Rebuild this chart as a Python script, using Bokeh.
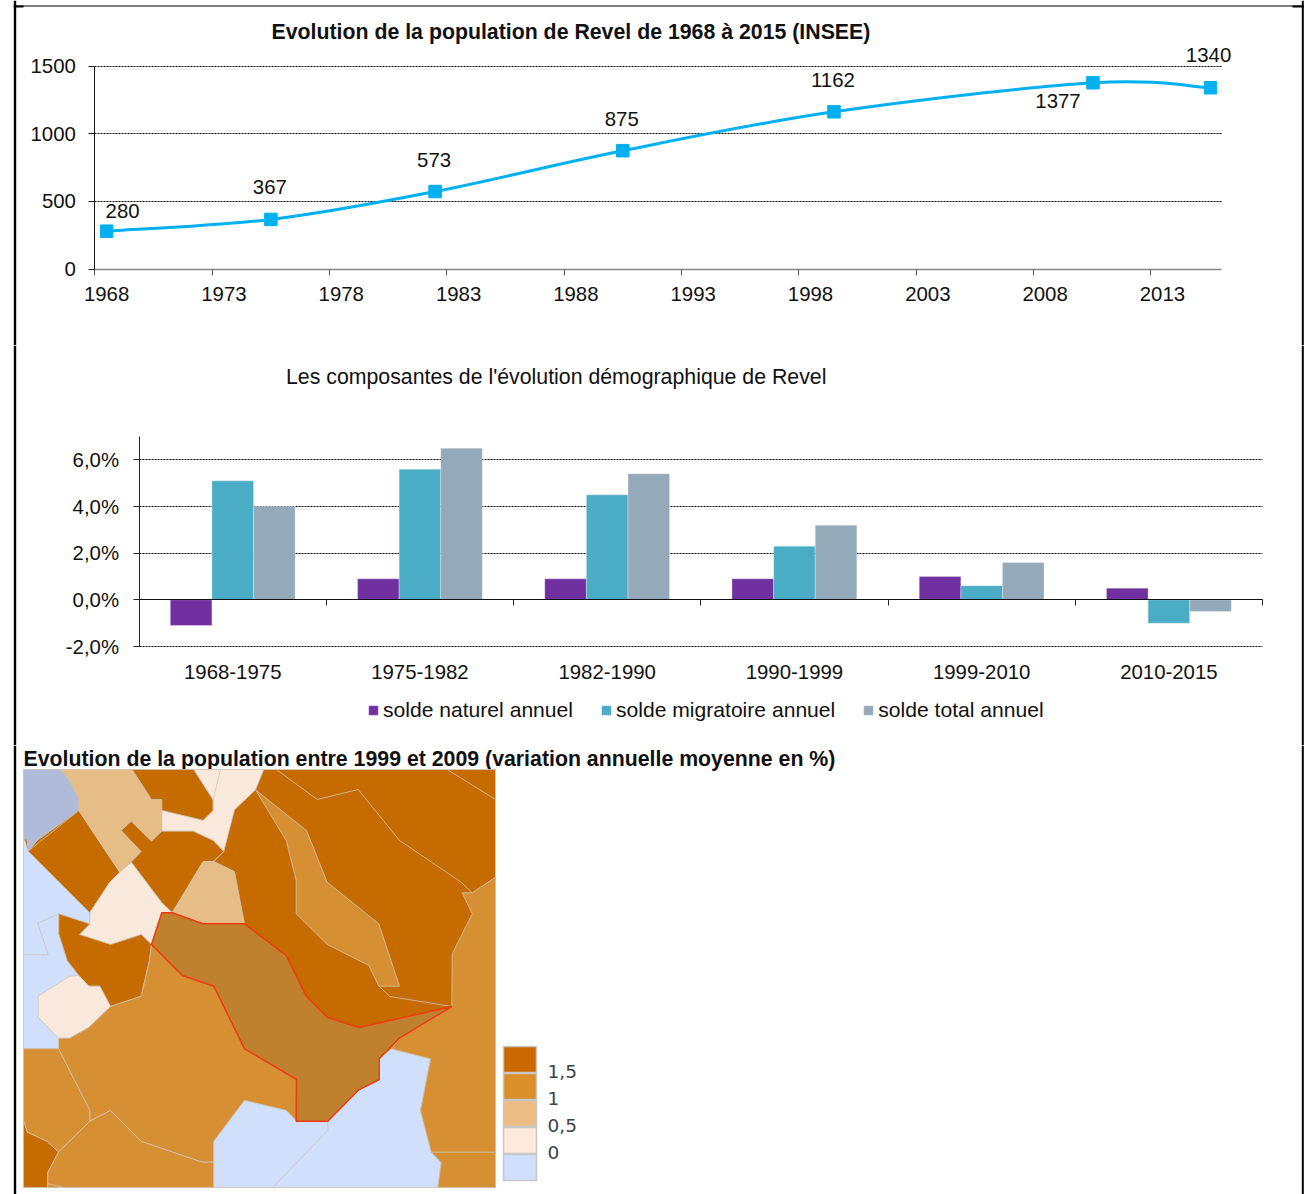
from bokeh.core.properties import value
from bokeh.embed import file_html
from bokeh.layouts import column
from bokeh.models import (ColumnDataSource, FixedTicker, Grid, LabelSet,
                          Legend, LegendItem, LinearAxis, Range1d)
from bokeh.plotting import figure
from bokeh.resources import INLINE

SANS = "Liberation Sans"
INK = "#111111"

# Population of Revel at each census
census_years = [1968.5, 1975.5, 1982.5, 1990.5, 1999.5, 2010.54, 2015.55]
population = [280, 367, 573, 875, 1162, 1377, 1340]
label_dx = [16, -1, -1, -1, -1, -35, -2]
label_dy = [20, 32, 32, 32, 32, -18, 33]
year_labels = ["1968", "1973", "1978", "1983", "1988", "1993", "1998", "2003", "2008", "2013"]
pop_ticks = [0, 500, 1000, 1500]

# Demographic components per inter-census period, percent per year
periods = ["1968-1975", "1975-1982", "1982-1990", "1990-1999", "1999-2010", "2010-2015"]
natural = [-1.1, 0.9, 0.9, 0.9, 1.0, 0.5]
migration = [5.1, 5.6, 4.5, 2.3, 0.6, -1.0]
total = [4.0, 6.5, 5.4, 3.2, 1.6, -0.5]
rate_ticks = [-2, 0, 2, 4, 6]
rate_labels = {-2: "-2,0%", 0: "0,0%", 2: "2,0%", 4: "4,0%", 6: "6,0%"}

# Map classes
DARK, MID, LIGHT, PALE, BLUE = "#C56B00", "#D68F33", "#E7BD87", "#F9E8DC", "#CFDFFC"
STEEL, REVEL = "#B0BBDA", "#BF812D"
key_labels = ["1,5", "1", "0,5", "0"]
key_colors = ["#CB6A00", "#DB8F29", "#ECBD85", "#FEE9DC", "#CFDFFC"]

# Commune outlines, in map units
steel_nw = [(23, 769), (60, 769), (68.3, 778.3), (78.3, 798.3), (78.3, 810), (36.7, 840), (27.7, 850.7), (26.7, 840), (23, 836.7)]
blue_w = [(23, 836), (27.7, 850.7), (89.3, 912.3), (89.3, 925), (58.3, 913.3), (58.3, 933.3), (66.7, 960), (78.3, 975), (110, 1006), (58, 1048.3), (23, 1048.3)]
dark_nw = [(27.7, 850.7), (78.3, 810), (119.3, 871.7), (109.3, 881.7), (89.3, 912.3)]
light_n = [(60, 769), (131.7, 769), (151, 799), (161.3, 799), (161.3, 830.7), (151, 840.7), (130.7, 820.7), (120.7, 830), (140.7, 851), (119.3, 871.7), (78.3, 810), (78.3, 798.3), (68.3, 778.3)]
dark_n = [(131.7, 769), (193.3, 769), (212.7, 799.3), (212.7, 810), (202.7, 820), (161.3, 810), (161.3, 799), (151, 799)]
pale_n = [(193.3, 769), (263.3, 769), (255, 789.3), (234, 809.3), (223.3, 851), (212.7, 840), (192.7, 830.7), (161.3, 830.7), (161.3, 810), (202.7, 820), (212.7, 810), (212.7, 799.3)]
dark_c = [(120.7, 830), (130.7, 820.7), (151, 840.7), (161.3, 830.7), (192.7, 830.7), (212.7, 840), (223.3, 851), (212.7, 861), (202.7, 861), (171.7, 912.3), (161.3, 902.3), (130.7, 861.7), (140.7, 851)]
pale_w = [(130.7, 861.7), (161.3, 902.3), (171.7, 912.3), (161.3, 912.3), (151, 944), (140.7, 934), (110, 944), (79, 934), (89.3, 923.3), (89.3, 912.3), (109.3, 881.7), (119.3, 871.7)]
light_c = [(202.7, 861), (213.3, 861), (234, 871), (244, 923.3), (202.3, 923.3), (171.7, 912.3)]
dark_w = [(58.3, 913.3), (89.3, 923.3), (79, 934), (110, 944), (140.7, 934), (151, 944), (149, 960), (140.7, 995.7), (110, 1006), (99.3, 985.7), (88.3, 985.7), (78.3, 975), (66.7, 960), (58.3, 933.3)]
pale_hex = [(69, 975.7), (78.3, 975), (88.3, 985.7), (99.3, 985.7), (110, 1006), (88.3, 1027), (69, 1037.7), (58, 1037.7), (37.7, 1016.7), (37.7, 995.7)]
mid_sw = [(151, 944), (181.7, 975), (213.3, 985.7), (244, 1048.3), (296, 1079), (296, 1120.7), (285.7, 1110), (244, 1100), (213.3, 1141), (213.3, 1161.7), (201.7, 1161.7), (140.7, 1141), (110, 1110), (89.3, 1120.7), (89.3, 1110), (58, 1048.3), (58, 1037.7), (69, 1037.7), (88.3, 1027), (110, 1006), (140.7, 995.7), (149, 960)]
mid_west = [(23, 1048.3), (58, 1048.3), (89.3, 1110), (89.3, 1120.7), (58, 1151.7), (46.7, 1141), (26.7, 1131.7), (23, 1120)]
dark_sw = [(23, 1120), (26.7, 1131.7), (46.7, 1141), (58, 1151.7), (47.3, 1172), (47.3, 1187), (23, 1187)]
mid_s = [(89.3, 1120.7), (110, 1110), (140.7, 1141), (201.7, 1161.7), (213.3, 1161.7), (213.3, 1187), (47.3, 1187), (47.3, 1172), (58, 1151.7)]
blue_s = [(213.3, 1141), (244, 1100), (285.7, 1110), (296, 1120.7), (327.3, 1120.7), (358.3, 1089.3), (378.7, 1079), (378.7, 1058.3), (390.7, 1048.3), (430, 1058.3), (420, 1110), (430.7, 1151.7), (440.7, 1162), (437.3, 1187), (213.3, 1187)]
mid_e = [(495, 876.7), (471.7, 892.3), (461.7, 892.3), (471.7, 913.3), (451.7, 953.3), (451.3, 1006), (399.3, 1037.3), (390.7, 1048.3), (430, 1058.3), (420, 1110), (430.7, 1151.7), (440.7, 1162), (437.3, 1187), (495, 1187)]
mid_inner = [(255, 789.3), (306, 830), (326.7, 881.7), (378.3, 923.3), (399, 985.7), (378.3, 985.7), (368.3, 965), (326.7, 944), (295.7, 913.3), (295.7, 880), (285.7, 840)]
revel = [(161.3, 912.3), (171.7, 912.3), (202.3, 923.3), (244, 923.3), (285.7, 955), (305.7, 995.7), (326.7, 1016.7), (358.3, 1027), (451.3, 1006), (399.3, 1037.3), (378.7, 1058.3), (378.7, 1079), (358.3, 1089.3), (327.3, 1120.7), (295.7, 1120.7), (296, 1079), (244, 1048.3), (213.3, 985.7), (181.7, 975), (151, 944)]
map_base = [(23, 769), (495, 769), (495, 1187), (23, 1187)]

# Interior borders between communes of the same class
border_ne_a = [(276, 769), (316.7, 799), (357.7, 789), (399, 840), (460.7, 881.7), (471.7, 892.3)]
border_ne_b = [(446.7, 769), (495, 799)]
border_e = [(378.7, 985.7), (389.3, 996), (451.3, 1006)]
border_w = [(58.3, 913.3), (37.3, 922.7), (47.7, 954.3), (23, 954.3)]
border_n = [(220, 769), (212.7, 799.3)]
border_c = [(213.3, 861), (223.3, 851)]
border_s = [(327.3, 1120.7), (327.3, 1130), (272, 1187)]
border_se = [(430.7, 1151.7), (495, 1151.7)]
border_sw = [(47.7, 1183.3), (63, 1186.7)]

map_fills = [
    (map_base, DARK), (steel_nw, STEEL), (blue_w, BLUE), (dark_nw, DARK), (light_n, LIGHT),
    (dark_n, DARK), (pale_n, PALE), (dark_c, DARK), (pale_w, PALE), (light_c, LIGHT),
    (dark_w, DARK), (pale_hex, PALE), (mid_sw, MID), (mid_west, MID), (dark_sw, DARK),
    (mid_s, MID), (blue_s, BLUE), (mid_e, MID), (mid_inner, MID),
]
map_borders = [border_ne_a, border_ne_b, border_e, border_w, border_n, border_c, border_s, border_se, border_sw]

WIDTH = 1310
HEIGHTS = (345, 400, 449)


def span_range(lo, hi, px_lo, px_hi, px_total):
    """Range covering the whole canvas side so that lo..hi lands on px_lo..px_hi."""
    per_px = (hi - lo) / (px_hi - px_lo)
    return Range1d(lo - px_lo * per_px, lo + (px_total - px_lo) * per_px)


def sheet(x_range, y_range, height):
    p = figure(width=WIDTH, height=height, output_backend="svg", toolbar_location=None,
               x_range=x_range, y_range=y_range, x_axis_location=None, y_axis_location=None,
               min_border=0, outline_line_color=None, background_fill_color=None,
               border_fill_color="white")
    p.grid.visible = False
    return p


def page_frame(p, height, first=False):
    """Black rule around the whole sheet, continued through each stacked figure."""
    boxes = [(13.3, 15.7, 0, height), (1301.3, 1303.3, 0, height)]
    if first:
        boxes += [(13.3, 1303.3, 5, 6), (13.3, 23, 5, 7), (1292, 1303.3, 5, 7)]
    xr, yr = p.x_range, p.y_range
    to_x = lambda px: xr.start + px * (xr.end - xr.start) / WIDTH
    to_y = lambda px: yr.end + px * (yr.start - yr.end) / height
    p.quad(left=[to_x(b[0]) for b in boxes], right=[to_x(b[1]) for b in boxes],
           top=[to_y(b[2]) for b in boxes], bottom=[to_y(b[3]) for b in boxes],
           fill_color="black", line_color=None)


def style_axis(axis):
    axis.major_label_text_font = SANS
    axis.major_label_text_font_size = "20.4px"
    axis.major_label_text_color = INK


def smooth_segments(xs, ys):
    """Bezier handles for a spreadsheet-style smoothed line through the points."""
    n = len(xs)
    out = {"x0": [], "y0": [], "x1": [], "y1": [], "cx0": [], "cy0": [], "cx1": [], "cy1": []}
    for i in range(n - 1):
        a, b = max(i - 1, 0), min(i + 2, n - 1)
        out["x0"].append(xs[i])
        out["y0"].append(ys[i])
        out["x1"].append(xs[i + 1])
        out["y1"].append(ys[i + 1])
        out["cx0"].append(xs[i] + (xs[i + 1] - xs[a]) / 6)
        out["cy0"].append(ys[i] + (ys[i + 1] - ys[a]) / 6)
        out["cx1"].append(xs[i + 1] - (xs[b] - xs[i]) / 6)
        out["cy1"].append(ys[i + 1] - (ys[b] - ys[i]) / 6)
    return out


# --- Population line ---
per_unit = 1500 / (268.6 - 65.6)
y1_range = Range1d(-(HEIGHTS[0] - 268.6) * per_unit, 1500 + 65.6 * per_unit)
p1 = sheet(span_range(1968, 2016, 94.4, 1220.6, WIDTH), y1_range, HEIGHTS[0])
p1.add_layout(Grid(dimension=1, ticker=FixedTicker(ticks=pop_ticks[1:]), cross_bounds=(1968, 2016),
                   grid_line_color="#000000", grid_line_dash="2 1", grid_line_width=1))

year_ticks = [int(y) for y in year_labels]
x1_axis = LinearAxis(fixed_location=0, bounds=(1968, 2016),
                     ticker=FixedTicker(ticks=[y + 0.5 for y in year_ticks], minor_ticks=year_ticks),
                     major_label_overrides={y + 0.5: str(y) for y in year_ticks},
                     major_tick_line_color=None, major_tick_in=0, major_tick_out=0,
                     minor_tick_in=0, minor_tick_out=6, minor_tick_line_color="#555555",
                     axis_line_color="#868686", axis_line_width=1.5, major_label_standoff=12)
y1_axis = LinearAxis(fixed_location=1968, bounds=(0, 1500),
                     ticker=FixedTicker(ticks=pop_ticks, minor_ticks=[]),
                     major_tick_in=0, major_tick_out=6, major_tick_line_color="#222222",
                     axis_line_color="#111111", major_label_standoff=13)
style_axis(x1_axis)
style_axis(y1_axis)
p1.add_layout(x1_axis, "below")
p1.add_layout(y1_axis, "left")

p1.bezier(line_color="#00B0F0", line_width=3, source=ColumnDataSource(smooth_segments(census_years, population)),
          x0="x0", y0="y0", x1="x1", y1="y1", cx0="cx0", cy0="cy0", cx1="cx1", cy1="cy1")
p1.scatter(census_years, population, marker="square", size=12.5, color="#00B0F0")
p1.add_layout(LabelSet(x="x", y="y", text="t", x_offset="dx", y_offset="dy",
                       source=ColumnDataSource(dict(x=census_years, y=population, t=[str(v) for v in population],
                                                    dx=label_dx, dy=label_dy)),
                       text_font=value(SANS), text_font_size="20.4px", text_color=INK,
                       text_align="center", text_baseline="middle"))
p1.text(x=[1968 + (271 - 94.4) * 48 / 1126.2], y=[1500 + (65.6 - 31.5) * per_unit],
        text=["Evolution de la population de Revel de 1968 à 2015 (INSEE)"],
        text_font=value(SANS), text_font_size="21.3px", text_font_style="bold", text_color=INK,
        text_baseline="middle")
page_frame(p1, HEIGHTS[0], first=True)

# --- Demographic components ---
rate_per_px = 9 / (646 - 345 - 91)
y2_range = Range1d(-2 - (HEIGHTS[1] - 301) * rate_per_px, 7 + 91 * rate_per_px)
p2 = sheet(span_range(0, 6, 138.6, 1262, WIDTH), y2_range, HEIGHTS[1])
centres = [i + 0.5 for i in range(len(periods))]
bar_w = 1 / 4.5
p2.add_layout(Grid(dimension=1, ticker=FixedTicker(ticks=[-2, 2, 4, 6]), cross_bounds=(0, 6),
                   grid_line_color="#000000", grid_line_dash="2 1", grid_line_width=1))
series = [("solde naturel annuel", natural, "#7030A0", -1),
          ("solde migratoire annuel", migration, "#4BACC6", 0),
          ("solde total annuel", total, "#94A9B9", 1)]
legend_items = []
for name, values, color, slot in series:
    r = p2.vbar(x=[c + slot * bar_w for c in centres], top=values, bottom=0, width=bar_w,
                fill_color=color, line_color="white", line_alpha=0.3, line_width=1)
    legend_items.append(LegendItem(label=name, renderers=[r]))

x2_labels = LinearAxis(fixed_location=-2, bounds=(0, 6), ticker=FixedTicker(ticks=centres, minor_ticks=[]),
                       major_label_overrides=dict(zip(centres, periods)), axis_line_color=None,
                       major_tick_line_color=None, major_tick_in=0, major_tick_out=0, major_label_standoff=18)
y2_axis = LinearAxis(fixed_location=0, bounds=(-2, 7), ticker=FixedTicker(ticks=rate_ticks, minor_ticks=[]),
                     major_label_overrides=rate_labels, major_tick_in=0, major_tick_out=6,
                     major_tick_line_color="#222222", axis_line_color="#222222", major_label_standoff=14)
zero_axis = LinearAxis(fixed_location=0, bounds=(0, 6), ticker=FixedTicker(ticks=list(range(7)), minor_ticks=[]),
                       major_label_text_color=None, major_label_text_font_size="1px",
                       major_tick_in=0, major_tick_out=6, major_tick_line_color="#222222",
                       axis_line_color="#111111")
style_axis(x2_labels)
style_axis(y2_axis)
p2.add_layout(x2_labels, "below")
p2.add_layout(y2_axis, "left")
p2.add_layout(zero_axis, "below")
p2.add_layout(Legend(items=legend_items, orientation="horizontal", location=(367, 23),
                     border_line_color=None, background_fill_alpha=0, padding=0, margin=0,
                     spacing=27, glyph_width=12, glyph_height=12, label_standoff=4,
                     label_text_font=SANS, label_text_font_size="21.1px", label_text_color=INK))
p2.text(x=[(285.5 - 138.6) * 6 / 1123.4], y=[7 + (436 - 376.5) * rate_per_px],
        text=["Les composantes de l'évolution démographique de Revel"],
        text_font=value(SANS), text_font_size="21.3px", text_color=INK, text_baseline="middle")
page_frame(p2, HEIGHTS[1])

# --- Commune map: one map unit per pixel ---
p3 = sheet(Range1d(0, WIDTH), Range1d(745 + HEIGHTS[2], 745), HEIGHTS[2])
p3.text(x=[23], y=[758.5], text=["Evolution de la population entre 1999 et 2009 (variation annuelle moyenne en %)"],
        text_font=value(SANS), text_font_size="21.3px", text_font_style="bold", text_color=INK,
        text_baseline="middle")
for outline, color in map_fills:
    p3.patch([q[0] for q in outline], [q[1] for q in outline], fill_color=color,
             line_color="#CFC6BA", line_width=1, line_alpha=0.8)
p3.multi_line([[q[0] for q in b] for b in map_borders], [[q[1] for q in b] for b in map_borders],
              line_color="#CFC6BA", line_width=1, line_alpha=0.8)
p3.patch([q[0] for q in revel], [q[1] for q in revel], fill_color=REVEL, line_color="#F03A10", line_width=1.5)

key_tops = [1046, 1073, 1100, 1127, 1154]
p3.quad(left=503, right=536, top=key_tops, bottom=[k + 26 for k in key_tops], fill_color=key_colors,
        line_color="#C8C8C8", line_width=1.5)
p3.text(x=[547, 547, 547, 547], y=[1071, 1098, 1125, 1152], text=key_labels, text_font=value("DejaVu Sans"),
        text_font_size="18.5px", text_color="#3A4450", text_baseline="middle")
page_frame(p3, HEIGHTS[2])

open("out.html", "w").write(file_html(column(p1, p2, p3, spacing=0), INLINE))
